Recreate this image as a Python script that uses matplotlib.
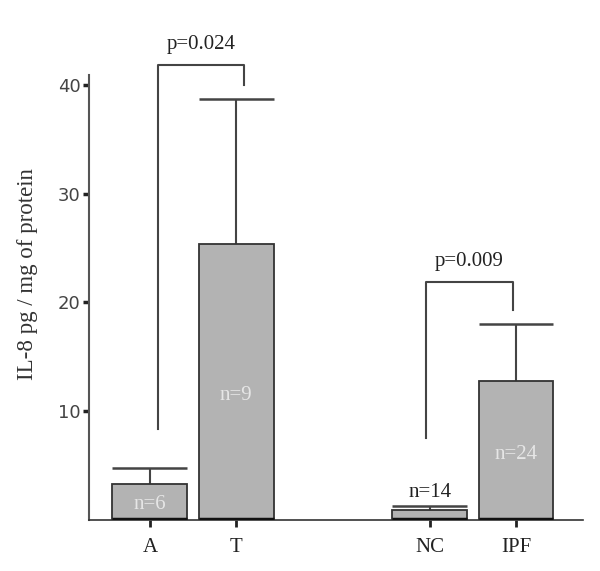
import matplotlib
matplotlib.use("Agg")
import matplotlib.pyplot as plt
import numpy as np

categories = ["A", "T", "NC", "IPF"]
means = [3.3, 25.4, 0.9, 12.8]
errors = [1.5, 13.3, 0.35, 5.2]
n_labels = ["n=6", "n=9", "n=14", "n=24"]
n_label_y = [1.4, 11.4, 2.5, 6.0]
n_inside = [True, True, False, True]
positions = [0.0, 1.0, 3.25, 4.25]
yticks = [10, 20, 30, 40]
p_values = ["p=0.024", "p=0.009"]
# bracket: (left x idx, right x idx, left bottom, top, right bottom)
brackets = [(0, 1, 8.4, 41.8, 40.0), (2, 3, 7.5, 21.9, 19.3)]
bracket_offsets = [0.09, -0.04]

serif = "Liberation Serif"
fig = plt.figure(figsize=(6.0, 5.71), dpi=100)
ax = fig.add_axes([0.148, 0.0893, 0.824, 0.7794])
width = 0.87
lc = "#444444"

ax.bar(positions, means, width=width, color="#b3b3b3", edgecolor="#333333", linewidth=1.3, zorder=2)
for x, m, e in zip(positions, means, errors):
    ax.vlines(x, m, m + e, color=lc, lw=1.5, zorder=1)
    ax.hlines(m + e, x - width / 2, x + width / 2, color=lc, lw=1.8, zorder=3)
    ax.hlines(0.08, x - width / 2, x + width / 2, color="#111111", lw=2.5, zorder=3)

for x, lab, ly, inside in zip(positions, n_labels, n_label_y, n_inside):
    ax.text(x, ly, lab, ha="center", va="center", fontsize=15, family=serif,
            color="#e6e6e6" if inside else "#222222", zorder=4)

for (i, j, lb, top, rb), p, off in zip(brackets, p_values, bracket_offsets):
    xl = positions[i] + off
    xr = positions[j] + off
    ax.plot([xl, xl, xr, xr], [lb, top, top, rb], color=lc, lw=1.5, clip_on=False)
    ax.text((xl + xr) / 2, top + 1.0, p, ha="center", va="bottom", fontsize=15,
            family=serif, color="#222222", clip_on=False)

ax.set_xlim(-0.71, 5.03)
ax.set_ylim(0, 40.9)
ax.set_xticks(positions)
ax.set_xticklabels(categories, family=serif, fontsize=15, color="#222222")
ax.set_yticks(yticks)
ax.set_yticklabels([str(t) for t in yticks], family="DejaVu Sans", fontsize=13, color="#444444")
ax.tick_params(axis="x", direction="out", length=5, width=2, pad=8, color="#222222")
ax.tick_params(axis="y", direction="out", length=4, width=2.5, pad=2, color="#222222")
for s in ["top", "right"]:
    ax.spines[s].set_visible(False)
ax.spines["left"].set_color("#555555")
ax.spines["left"].set_linewidth(1.5)
ax.spines["bottom"].set_color("#333333")
ax.spines["bottom"].set_linewidth(1.2)
ax.set_ylabel("IL-8 pg / mg of protein", family=serif, fontsize=16.5, color="#333333")
ax.yaxis.set_label_coords(-0.102, 0.553)

fig.savefig("out.png", dpi=100)
